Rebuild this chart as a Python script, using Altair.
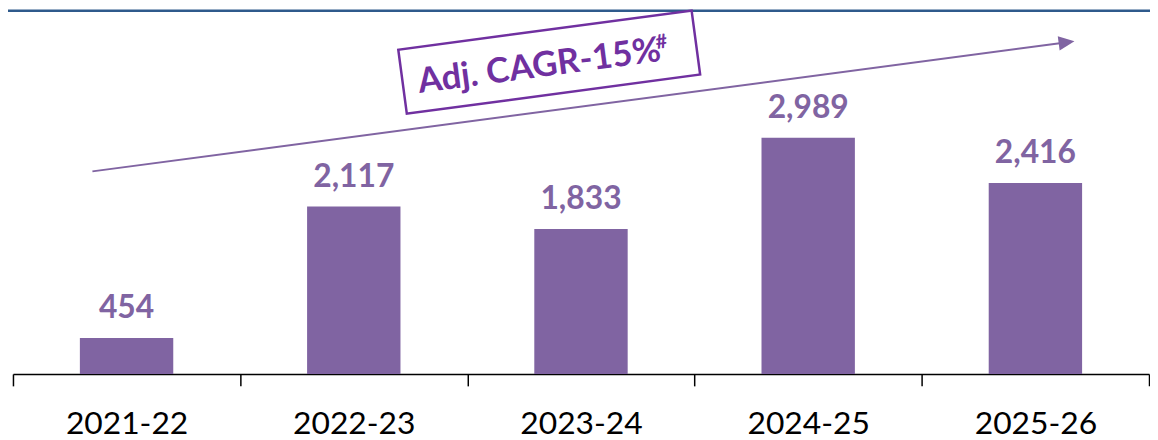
import altair as alt
import pandas as pd

# ---- data ----
years = ["2021-22", "2022-23", "2023-24", "2024-25", "2025-26"]
values = [454, 2117, 1833, 2989, 2416]
value_labels = ["454", "2,117", "1,833", "2,989", "2,416"]
cagr_text = ["Adj. CAGR-15%"]
cagr_sup = ["#"]

# ---- style ----
BAR = "#8064A2"
BOX = "#7030A0"
TOPLINE = "#2F5A8C"
FONT = "Lato"
W, H = 1144, 367
YMAX = 4611
ANGLE = 352.4

df = pd.DataFrame({"year": years, "value": values, "label": value_labels})
one = pd.DataFrame({"t": cagr_text, "s": cagr_sup})

x = alt.X(
    "year:N",
    sort=years,
    scale=alt.Scale(paddingInner=0, paddingOuter=0),
    axis=alt.Axis(
        title=None, labelAngle=0, labelFont=FONT, labelFontSize=32,
        labelColor="#000000", labelBaseline="alphabetic", labelPadding=48,
        tickBand="extent", tickSize=12, tickColor="#000000", tickWidth=1.5,
        domainColor="#000000", domainWidth=1.5, grid=False,
    ),
)
y = alt.Y("value:Q", scale=alt.Scale(domain=[0, YMAX], nice=False, zero=True), axis=None)

base = alt.Chart(df)
bars = base.mark_bar(color=BAR, width={"band": 0.411}).encode(x=x, y=y)
vlabels = base.mark_text(
    font=FONT, fontWeight="bold", fontSize=32, color=BAR,
    baseline="alphabetic", dy=-20,
).encode(x=x, y=y, text="label:N")

ann = alt.Chart(one)
topline = ann.mark_rule(color=TOPLINE, strokeWidth=2.5).encode(
    x=alt.value(-5), x2=alt.value(W + 1), y=alt.value(1.25)
)
arrow_line = ann.mark_rule(color=BAR, strokeWidth=2).encode(
    x=alt.value(80), y=alt.value(163), x2=alt.value(1056), y2=alt.value(33.7)
)
arrow_head = ann.mark_point(
    shape="M-1,-0.9L1,0L-1,0.9Z", size=256, filled=True, color=BAR,
    opacity=1, angle=352.45,
).encode(x=alt.value(1061), y=alt.value(33))
box = ann.mark_point(
    shape="M-1,-0.218L1,-0.218L1,0.218L-1,0.218Z", size=88804, filled=False,
    color=BOX, strokeWidth=2.5, opacity=1, angle=ANGLE,
).encode(x=alt.value(540), y=alt.value(53))
box_text = ann.mark_text(
    font=FONT, fontWeight="bold", fontSize=35, color=BOX, angle=ANGLE,
    align="center", baseline="middle",
).encode(x=alt.value(530), y=alt.value(57), text="t:N")
box_sup = ann.mark_text(
    font=FONT, fontWeight="bold", fontSize=20, color=BOX, angle=ANGLE,
    align="center", baseline="middle",
).encode(x=alt.value(653), y=alt.value(33), text="s:N")

chart = (
    alt.layer(bars, vlabels, topline, arrow_line, arrow_head, box, box_text, box_sup)
    .properties(
        width=W, height=H,
        autosize=alt.AutoSizeParams(type="none"),
        padding={"left": 5, "top": 0, "right": 1, "bottom": 65},
    )
    .configure_view(stroke=None)
)

chart.save("out.html", embed_options={"renderer": "svg", "actions": False})
